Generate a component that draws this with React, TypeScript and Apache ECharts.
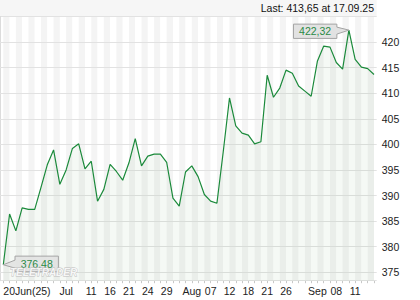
import React, { useEffect, useRef } from "react";
import * as echarts from "echarts";

// trading days shown on the category axis
const dates = [
  "20.06.25", "23.06.25", "24.06.25", "25.06.25", "26.06.25", "27.06.25", "30.06.25",
  "01.07.25", "02.07.25", "03.07.25", "07.07.25", "08.07.25", "09.07.25", "10.07.25",
  "11.07.25", "14.07.25", "15.07.25", "16.07.25", "17.07.25", "18.07.25", "21.07.25",
  "22.07.25", "23.07.25", "24.07.25", "25.07.25", "28.07.25", "29.07.25", "30.07.25",
  "31.07.25", "01.08.25", "04.08.25", "05.08.25", "06.08.25", "07.08.25", "08.08.25",
  "11.08.25", "12.08.25", "13.08.25", "14.08.25", "18.08.25", "19.08.25", "20.08.25",
  "21.08.25", "22.08.25", "25.08.25", "26.08.25", "27.08.25", "28.08.25", "29.08.25",
  "02.09.25", "03.09.25", "04.09.25", "05.09.25", "08.09.25", "09.09.25", "10.09.25",
  "11.09.25", "12.09.25", "16.09.25", "17.09.25",
];

// closing prices
const closes = [
  376.48, 386.4, 383.1, 387.6, 387.3, 387.3, 391.6, 396.0, 398.9, 392.2,
  395.0, 399.2, 400.1, 395.2, 396.7, 388.9, 391.2, 396.1, 394.7, 393.0,
  396.4, 401.1, 395.8, 397.7, 398.1, 398.1, 396.5, 389.5, 387.95, 394.6,
  395.8, 393.7, 390.2, 388.9, 388.5, 398.5, 409.06, 403.6, 402.2, 401.8,
  400.1, 400.5, 413.5, 409.2, 411.0, 414.5, 413.9, 411.4, 410.4, 409.4,
  416.3, 419.2, 419.0, 416.0, 414.7, 422.32, 416.6, 415.1, 414.8, 413.65,
];

// x-axis tick labels, keyed by category
const xTickDates = [
  "20.06.25", "07.07.25", "11.07.25", "16.07.25", "21.07.25", "24.07.25", "29.07.25",
  "04.08.25", "07.08.25", "12.08.25", "18.08.25", "21.08.25", "26.08.25", "03.09.25",
  "08.09.25", "11.09.25",
];
const xTickTexts = [
  "20Jun(25)", "Jul", "11", "16", "21", "24", "29", "Aug", "07", "12", "18", "21", "26",
  "Sep", "08", "11",
];

const yMin = 373.36;
const yMax = 425;

const FONT = "Liberation Sans, Arial, sans-serif";
const GREEN = "#1b8a3b";
const TEXT_GREEN = "#2a8a45";

function fmt(v: number) {
  return v.toFixed(2).replace(".", ",");
}

export default function App() {
  const ref = useRef<HTMLDivElement>(null);

  useEffect(() => {
    if (!ref.current) return;
    const chart = echarts.init(ref.current, null, { renderer: "svg" });
    const tickMap: Record<string, string> = {};
    xTickDates.forEach((d, i) => (tickMap[d] = xTickTexts[i]));
    const last = closes.length - 1;

    const top = 16.4;
    const bottom = 19.3;

    chart.setOption({
      animation: false,
      textStyle: { fontFamily: FONT },
      grid: [
        { left: 0, right: 43.3, top, bottom },
        { left: 3.3, right: 46, top, bottom },
      ],
      xAxis: [
        { type: "value", gridIndex: 0, show: false, min: 0, max: 1 },
        {
          type: "category",
          gridIndex: 1,
          data: dates,
          boundaryGap: false,
          z: 0,
          axisLine: { show: false },
          axisTick: {
            show: true,
            interval: 0,
            length: 2.5,
            lineStyle: { color: "#c8c8c8" },
          },
          splitLine: { show: false },
          splitArea: {
            show: true,
            interval: 0,
            areaStyle: { color: ["#f4f4f4", "#ffffff"] },
          },
          axisLabel: {
            interval: 0,
            margin: 5,
            fontSize: 10.5,
            color: "#222",
            fontFamily: FONT,
            alignMinLabel: "left",
            formatter: (v: string) => tickMap[v] ?? "",
          },
        },
      ],
      yAxis: [
        {
          type: "value",
          gridIndex: 0,
          position: "right",
          min: yMin,
          max: yMax,
          splitNumber: 10,
          z: 1,
          axisLine: { show: true, lineStyle: { color: "#dcdcdc" } },
          axisTick: { show: true, length: 5, lineStyle: { color: "#e2e2e2" } },
          splitLine: { show: true, lineStyle: { color: "#e2e2e2", width: 1 } },
          axisLabel: {
            margin: 5,
            fontSize: 10.5,
            color: "#222",
            fontFamily: FONT,
            showMinLabel: false,
            showMaxLabel: false,
          },
        },
        {
          type: "value",
          gridIndex: 1,
          min: yMin,
          max: yMax,
          show: false,
        },
      ],
      series: [
        {
          type: "line",
          xAxisIndex: 1,
          yAxisIndex: 1,
          data: closes,
          symbol: "none",
          z: 2,
          lineStyle: { color: GREEN, width: 1.2 },
          areaStyle: { origin: "start", color: "rgba(40,120,40,0.07)" },
        },
      ],
    });

    let maxIdx = 0;
    closes.forEach((v, i) => {
      if (v > closes[maxIdx]) maxIdx = i;
    });
    const pMax = chart.convertToPixel({ xAxisIndex: 1, yAxisIndex: 1 }, [dates[maxIdx], closes[maxIdx]]) as number[];
    const pFirst = chart.convertToPixel({ xAxisIndex: 1, yAxisIndex: 1 }, [dates[0], closes[0]]) as number[];

    const boxW = 43.4;
    // max callout: box left of the point
    const m1 = pMax[0] - 12;
    const m0 = m1 - boxW;
    const mt = pMax[1] - 6;
    const mb = pMax[1] + 8.3;
    // first callout: box right of the point
    const f0 = pFirst[0] + 11.7;
    const f1 = f0 + boxW;
    const ft = pFirst[1] - 8.6;
    const fb = pFirst[1] + 7;

    chart.setOption({
      graphic: [
        {
          type: "rect",
          z: -10,
          silent: true,
          shape: { x: 0, y: 0, width: 376.7, height: top },
          style: { fill: "#f6f6f6" },
        },
        {
          type: "text",
          z: 10,
          style: {
            text: `Last: ${fmt(closes[last])} at ${dates[last]}`,
            x: 374,
            y: 7.5,
            align: "right",
            verticalAlign: "middle",
            font: `10.5px ${FONT}`,
            fill: "#111",
          },
        },
        {
          type: "polygon",
          z: 10,
          shape: {
            points: [
              [m0, mt], [m1, mt], [m1, mt + 3], [pMax[0], pMax[1]], [m1, mt + 10],
              [m1, mb], [m0, mb],
            ],
          },
          style: { fill: "#e2e2e2", stroke: "#a4a4a4", lineWidth: 1 },
        },
        {
          type: "text",
          z: 11,
          style: {
            text: fmt(closes[maxIdx]),
            x: (m0 + m1) / 2,
            y: (mt + mb) / 2,
            align: "center",
            verticalAlign: "middle",
            font: `10.5px ${FONT}`,
            fill: TEXT_GREEN,
          },
        },
        {
          type: "polygon",
          z: 10,
          shape: {
            points: [
              [f0, ft], [f1, ft], [f1, fb], [f0, fb], [f0, ft + 12],
              [pFirst[0], pFirst[1]], [f0, ft + 4],
            ],
          },
          style: { fill: "rgba(226,226,226,0.9)", stroke: "#a4a4a4", lineWidth: 1 },
        },
        {
          type: "text",
          z: 11,
          style: {
            text: fmt(closes[0]),
            x: (f0 + f1) / 2,
            y: (ft + fb) / 2,
            align: "center",
            verticalAlign: "middle",
            font: `10.5px ${FONT}`,
            fill: TEXT_GREEN,
          },
        },
        {
          type: "text",
          z: 12,
          silent: true,
          style: {
            text: "TELETRADER",
            x: 10,
            y: 272,
            align: "left",
            verticalAlign: "middle",
            font: `italic bold 10px ${FONT}`,
            fill: "rgba(255,255,255,0.85)",
            stroke: "#bdbdbd",
            lineWidth: 0.8,
          },
        },
      ],
    });

    return () => chart.dispose();
  }, []);

  return (
    <div
      ref={ref}
      style={{ position: "fixed", left: 0, top: 0, width: 420, height: 300, background: "#fff" }}
    />
  );
}
